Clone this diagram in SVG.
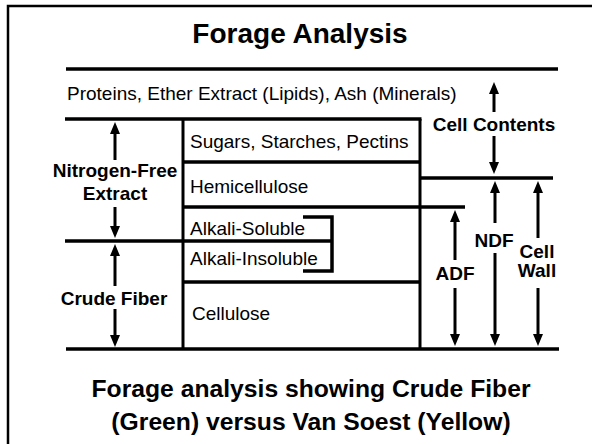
<svg xmlns="http://www.w3.org/2000/svg" width="592" height="444" viewBox="0 0 592 444">
<style>
.t{font-family:"Liberation Sans",Arial,sans-serif;font-size:19px;fill:#000}
.b{font-weight:bold;text-anchor:middle}
.ln{stroke:#000;stroke-width:3.5;fill:none}
.vl{stroke:#000;stroke-width:3;fill:none}
.ar{stroke:#000;stroke-width:3;marker-end:url(#ah)}
</style>
<defs>
<marker id="ah" markerUnits="userSpaceOnUse" markerWidth="12" markerHeight="10" refX="2" refY="5" orient="auto"><path d="M0,0L12,5L0,10z" fill="#000"/></marker>
</defs>
<rect width="592" height="444" fill="#fff"/>
<rect id="frame" x="8" y="6" width="600" height="460" fill="none" stroke="#000" stroke-width="2.5"/>
<g id="connectors">
<path class="ln" d="M66,69H558"/>
<path class="ln" d="M65,119H421.5"/>
<path class="vl" d="M183,119V349"/>
<path class="vl" d="M420,119V349"/>
<path class="ln" d="M183,162H420"/>
<path class="ln" d="M183,207H465"/>
<path class="ln" d="M65,241H332"/>
<path class="ln" d="M183,282H420"/>
<path class="ln" d="M66,349H559"/>
<path class="ln" d="M420,178H553"/>
<path class="ln" d="M303,217H332V271H303"/>
<line class="ar" x1="494" y1="112" x2="494" y2="92"/>
<line class="ar" x1="494" y1="136" x2="494" y2="164"/>
<line class="ar" x1="115" y1="160" x2="115" y2="132"/>
<line class="ar" x1="115" y1="207" x2="115" y2="228"/>
<line class="ar" x1="115" y1="286" x2="115" y2="254"/>
<line class="ar" x1="115" y1="309" x2="115" y2="337"/>
<line class="ar" x1="455" y1="260" x2="455" y2="220"/>
<line class="ar" x1="455" y1="288" x2="455" y2="336"/>
<line class="ar" x1="495" y1="223" x2="495" y2="191"/>
<line class="ar" x1="495" y1="253" x2="495" y2="336"/>
<line class="ar" x1="538" y1="238" x2="538" y2="191"/>
<line class="ar" x1="538" y1="288" x2="538" y2="336"/>
</g>
<g id="title"><text class="t b" x="300" y="43" style="font-size:28px">Forage Analysis</text></g>
<g id="proteins"><text class="t" x="67" y="100">Proteins, Ether Extract (Lipids), Ash (Minerals)</text></g>
<g id="sugars"><text class="t" x="190" y="148">Sugars, Starches, Pectins</text></g>
<g id="hemicellulose"><text class="t" x="190" y="193">Hemicellulose</text></g>
<g id="alkali-soluble"><text class="t" x="190" y="235">Alkali-Soluble</text></g>
<g id="alkali-insoluble"><text class="t" x="190" y="265">Alkali-Insoluble</text></g>
<g id="cellulose"><text class="t" x="192" y="320">Cellulose</text></g>
<g id="nfe"><text class="t b" x="115" y="177">Nitrogen-Free</text><text class="t b" x="115" y="200">Extract</text></g>
<g id="crude-fiber"><text class="t b" x="114" y="305">Crude Fiber</text></g>
<g id="cell-contents"><text class="t b" x="494" y="131">Cell Contents</text></g>
<g id="ndf"><text class="t b" x="494" y="247">NDF</text></g>
<g id="cell-wall"><text class="t b" x="537" y="258">Cell</text><text class="t b" x="537" y="277">Wall</text></g>
<g id="adf"><text class="t b" x="455" y="280">ADF</text></g>
<g id="caption"><text class="t b" x="311" y="397" style="font-size:24.7px">Forage analysis showing Crude Fiber</text><text class="t b" x="311" y="430" style="font-size:24.7px">(Green) versus Van Soest (Yellow)</text></g>
</svg>
